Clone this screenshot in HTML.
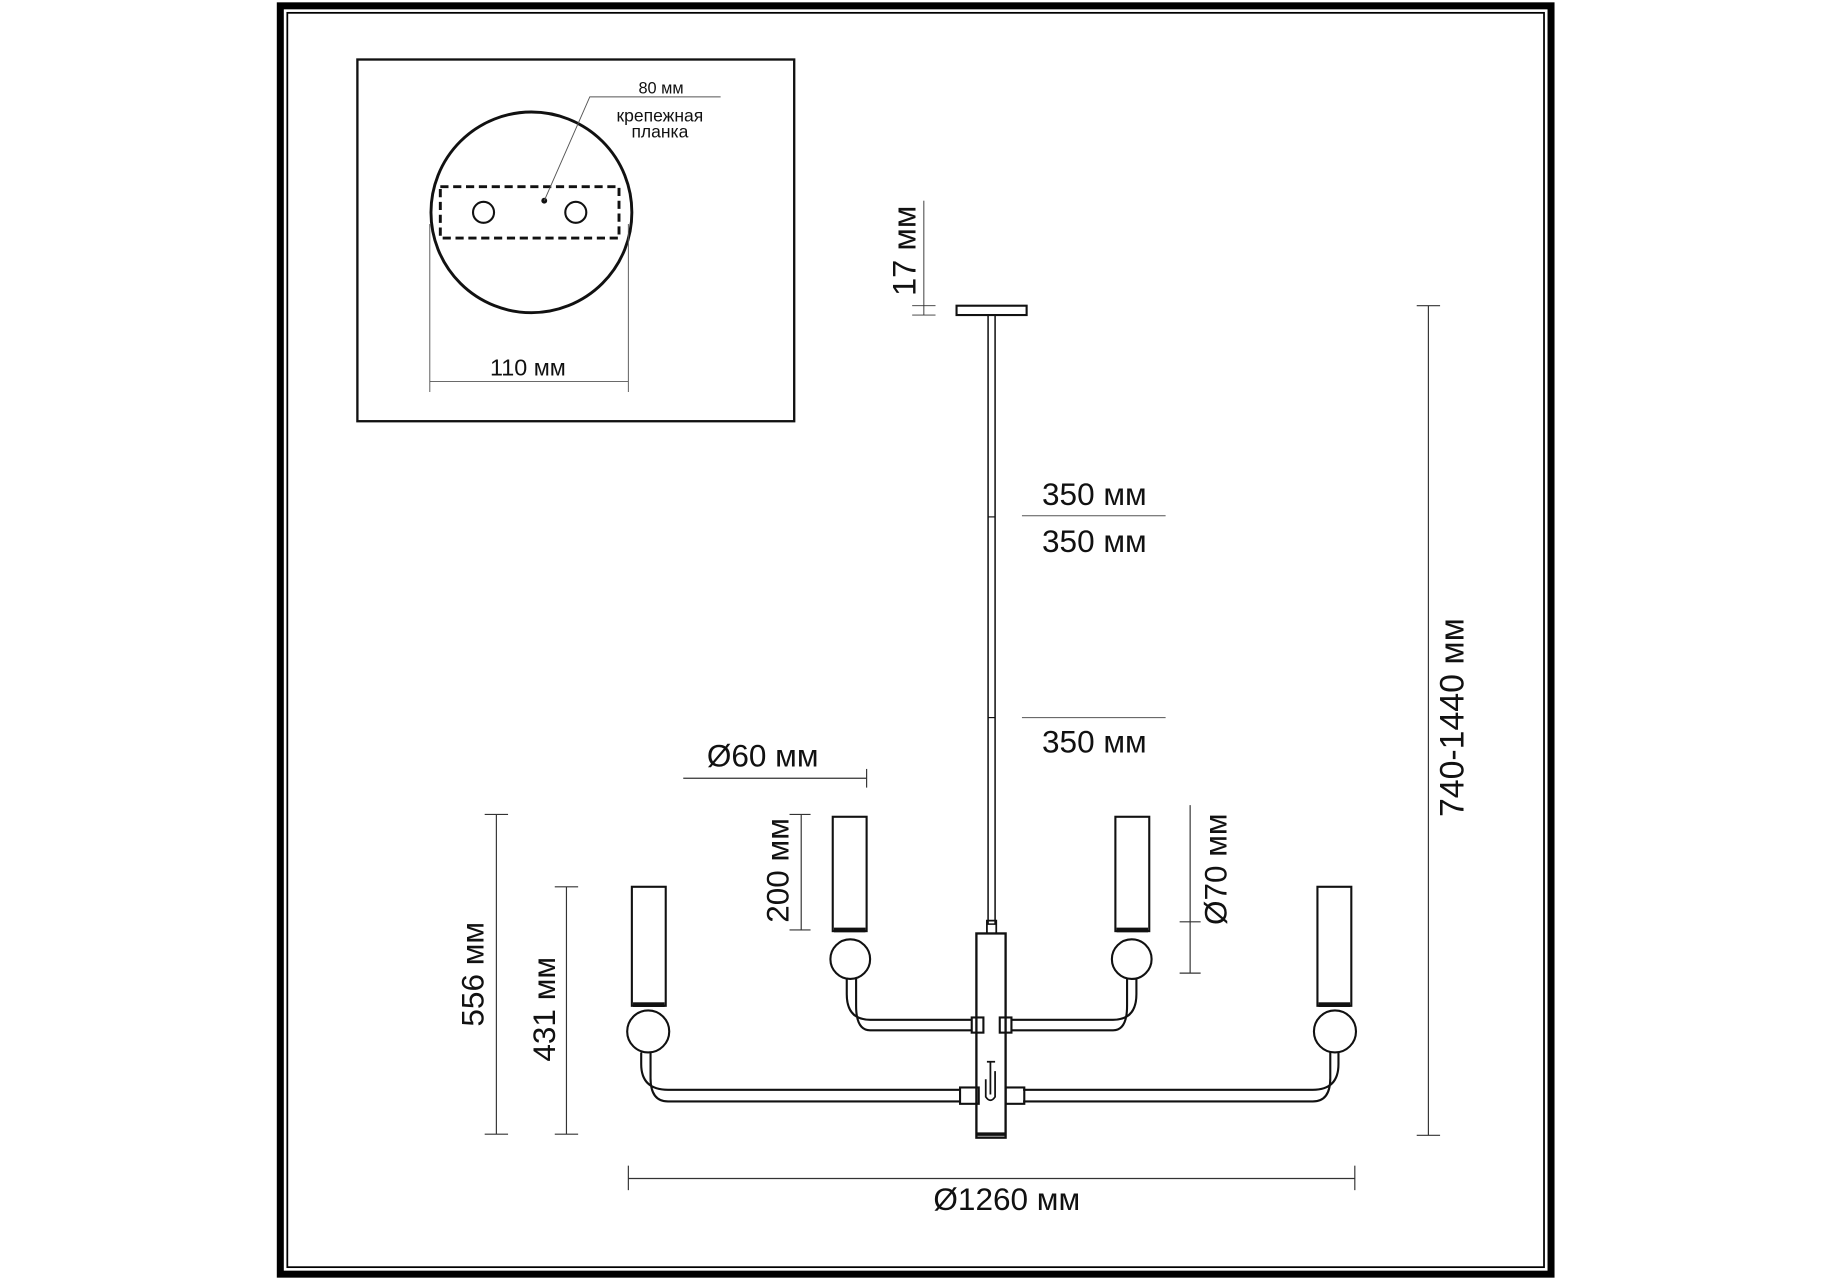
<!DOCTYPE html>
<html><head><meta charset="utf-8"><style>
html,body{margin:0;padding:0;background:#fff;}
svg{display:block;}
text{font-family:"Liberation Sans",sans-serif;fill:#111;}
</style></head><body>
<svg width="1829" height="1280" viewBox="0 0 1566 1097" preserveAspectRatio="none" xmlns="http://www.w3.org/2000/svg">
<rect x="0" y="0" width="1566" height="1097" fill="#fff"/>
<rect x="240" y="5" width="1088" height="1087" fill="none" stroke="#000" stroke-width="6"/>
<rect x="246" y="11" width="1076" height="1075" fill="none" stroke="#000" stroke-width="1.5"/>
<rect x="306" y="51" width="374" height="310" fill="none" stroke="#111" stroke-width="2"/>
<circle cx="455" cy="182" r="86" fill="none" stroke="#111" stroke-width="2.5"/>
<rect x="377" y="160" width="153" height="44" fill="none" stroke="#111" stroke-width="2.5" stroke-dasharray="7,4"/>
<circle cx="414" cy="182" r="9" fill="none" stroke="#111" stroke-width="1.8"/>
<circle cx="493" cy="182" r="9" fill="none" stroke="#111" stroke-width="1.8"/>
<circle cx="466" cy="172" r="2.5" fill="#111"/>
<polyline points="466,172 505,83 617,83" fill="none" stroke="#555" stroke-width="0.8"/>
<text x="566" y="80" font-size="14" text-anchor="middle">80 мм</text>
<text x="565" y="104" font-size="15" text-anchor="middle">крепежная</text>
<text x="565" y="118" font-size="15" text-anchor="middle">планка</text>
<line x1="368" y1="192" x2="368" y2="336" stroke="#555" stroke-width="0.8"/>
<line x1="538" y1="192" x2="538" y2="336" stroke="#555" stroke-width="0.8"/>
<line x1="368" y1="327" x2="538" y2="327" stroke="#555" stroke-width="0.8"/>
<text x="452" y="322" font-size="20" text-anchor="middle">110 мм</text>
<line x1="791" y1="172" x2="791" y2="270" stroke="#333" stroke-width="0.8"/>
<line x1="781" y1="262" x2="801" y2="262" stroke="#333" stroke-width="0.8"/>
<line x1="781" y1="270" x2="801" y2="270" stroke="#333" stroke-width="0.8"/>
<text transform="translate(784,215) rotate(-90)" font-size="28" text-anchor="middle">17 мм</text>
<rect x="819" y="262" width="60" height="8" fill="none" stroke="#111" stroke-width="1.8"/>
<rect x="846" y="270" width="6" height="522" fill="none" stroke="#111" stroke-width="1.3"/>
<line x1="846" y1="443" x2="852" y2="443" stroke="#111"/>
<line x1="846" y1="615" x2="852" y2="615" stroke="#111"/>
<text x="937" y="433" font-size="27" text-anchor="middle">350 мм</text>
<line x1="875" y1="442" x2="998" y2="442" stroke="#555" stroke-width="0.9"/>
<text x="937" y="473" font-size="27" text-anchor="middle">350 мм</text>
<line x1="875" y1="615" x2="998" y2="615" stroke="#555" stroke-width="0.9"/>
<text x="937" y="645" font-size="27" text-anchor="middle">350 мм</text>
<line x1="1223" y1="262" x2="1223" y2="973" stroke="#333" stroke-width="1"/>
<line x1="1213" y1="262" x2="1233" y2="262" stroke="#333" stroke-width="1"/>
<line x1="1213" y1="973" x2="1233" y2="973" stroke="#333" stroke-width="1"/>
<text transform="translate(1253,615) rotate(-90)" font-size="29" text-anchor="middle">740-1440 мм</text>
<rect x="845" y="789" width="8" height="11" fill="none" stroke="#111" stroke-width="1.5"/>
<rect x="836" y="800" width="25" height="175" fill="none" stroke="#111" stroke-width="2"/>
<line x1="836" y1="972" x2="861" y2="972" stroke="#111" stroke-width="3"/>
<path d="M845 910 L852 910 M848 910 L848 938 M844 925 L844 940 Q848 946 852 940 L852 918" fill="none" stroke="#111" stroke-width="1.5"/>
<g fill="none" stroke="#111" stroke-width="1.8">
<path d="M832 874 L745 874 Q725 874 725 852 L725 838 M832 883 L745 883 Q733 883 733 862 L733 838"/>
<path d="M866 874 L953 874 Q973 874 973 852 L973 838 M866 883 L953 883 Q965 883 965 862 L965 838"/>
<rect x="832" y="872" width="10" height="13"/>
<rect x="856" y="872" width="10" height="13"/>
<circle cx="728" cy="822" r="17"/>
<circle cx="969" cy="822" r="17"/>
<rect x="713" y="700" width="29" height="98"/>
<rect x="955" y="700" width="29" height="98"/>
<path d="M822 934 L572 934 Q549 934 549 912 L549 902 M822 944 L572 944 Q557 944 557 924 L557 902"/>
<path d="M876 934 L1124 934 Q1146 934 1146 912 L1146 902 M876 944 L1124 944 Q1139 944 1139 924 L1139 902"/>
<rect x="822" y="932" width="16" height="14"/>
<rect x="861" y="932" width="16" height="14"/>
<circle cx="555" cy="884" r="18"/>
<circle cx="1143" cy="884" r="18"/>
<rect x="541" y="760" width="29" height="102"/>
<rect x="1128" y="760" width="29" height="102"/>
</g>
<g fill="#111">
<rect x="714" y="795" width="27" height="4"/><rect x="956" y="795" width="27" height="4"/>
<rect x="542" y="859" width="27" height="4"/><rect x="1129" y="859" width="27" height="4"/>
</g>
<g stroke="#333" stroke-width="1">
<line x1="585" y1="667" x2="742" y2="667"/><line x1="742" y1="659" x2="742" y2="675"/>
<line x1="686" y1="698" x2="686" y2="797"/><line x1="676" y1="698" x2="694" y2="698"/><line x1="676" y1="797" x2="694" y2="797"/>
<line x1="1019" y1="690" x2="1019" y2="834"/><line x1="1010" y1="790" x2="1028" y2="790"/><line x1="1010" y1="834" x2="1028" y2="834"/>
<line x1="425" y1="698" x2="425" y2="972"/><line x1="415" y1="698" x2="435" y2="698"/><line x1="415" y1="972" x2="435" y2="972"/>
<line x1="485" y1="760" x2="485" y2="972"/><line x1="475" y1="760" x2="495" y2="760"/><line x1="475" y1="972" x2="495" y2="972"/>
<line x1="538" y1="1010" x2="1160" y2="1010"/><line x1="538" y1="999" x2="538" y2="1020"/><line x1="1160" y1="999" x2="1160" y2="1020"/>
</g>
<text x="653" y="657" font-size="27" text-anchor="middle">Ø60 мм</text>
<text transform="translate(675,746) rotate(-90)" font-size="27" text-anchor="middle">200 мм</text>
<text transform="translate(1050,745) rotate(-90)" font-size="27" text-anchor="middle">Ø70 мм</text>
<text transform="translate(414,835) rotate(-90)" font-size="27" text-anchor="middle">556 мм</text>
<text transform="translate(475,865) rotate(-90)" font-size="27" text-anchor="middle">431 мм</text>
<text x="862" y="1037" font-size="27" text-anchor="middle">Ø1260 мм</text>
</svg>
</body></html>
